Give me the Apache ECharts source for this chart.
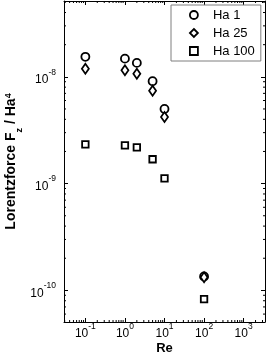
<!DOCTYPE html>
<html>
<head>
<meta charset="utf-8">
<script src="https://cdn.jsdelivr.net/npm/echarts@6/dist/echarts.min.js"></script>
<style>
html,body{margin:0;padding:0;background:#fff;}
#chart{width:266px;height:358px;}
</style>
</head>
<body>
<div id="chart"></div>
<script>
// ---- data ----
const reValues = [0.1, 1, 2, 5, 10, 100];
const ha1 = [1.54e-8, 1.48e-8, 1.35e-8, 9.1e-9, 5.0e-9, 1.35e-10];
const ha25 = [1.19e-8, 1.15e-8, 1.07e-8, 7.4e-9, 4.2e-9, 1.33e-10];
const ha100 = [2.33e-9, 2.28e-9, 2.18e-9, 1.69e-9, 1.12e-9, 8.3e-11];
const seriesNames = ['Ha 1', 'Ha 25', 'Ha 100'];
const xTickExps = [-1, 0, 1, 2, 3];
const yTickExps = [-10, -9, -8];
const xMinExp = -1.54, xMaxExp = 3.54;
const yMinExp = -10.296, yMaxExp = -7.29;
const minorMultipliers = [2, 3, 4, 5, 6, 7, 8, 9];

const xMin = Math.pow(10, xMinExp), xMax = Math.pow(10, xMaxExp);
const yMin = Math.pow(10, yMinExp), yMax = Math.pow(10, yMaxExp);

function minorValues(lo, hi) {
  const out = [];
  for (let e = Math.floor(Math.log10(lo)); e <= Math.ceil(Math.log10(hi)); e++) {
    minorMultipliers.forEach(m => {
      const v = m * Math.pow(10, e);
      if (v > lo && v < hi) out.push(v);
    });
  }
  return out;
}
const xMinor = minorValues(xMin, xMax);
const yMinor = minorValues(yMin, yMax);

const FONT = 'Liberation Sans';
function expLabel(exps) {
  return function (v) {
    const e = Math.log10(v);
    const r = Math.round(e);
    if (Math.abs(e - r) > 1e-6 || exps.indexOf(r) < 0) return '';
    return '{b|10}{s|' + r + '}';
  };
}
const richExp = {
  b: { fontSize: 12, fontFamily: FONT, color: '#000', lineHeight: 18, verticalAlign: 'bottom' },
  s: { fontSize: 8.5, fontFamily: FONT, color: '#000', lineHeight: 8, verticalAlign: 'top' }
};

function toPairs(ys) { return reValues.map((x, i) => [x, ys[i]]); }

const markerStyle = { color: '#fff', borderColor: '#000', borderWidth: 1.8, opacity: 1 };

const option = {
  animation: false,
  backgroundColor: '#fff',
  grid: { left: 64, right: 1, top: 1, bottom: 36, containLabel: false, outerBoundsMode: 'none' },
  legend: {
    data: seriesNames,
    orient: 'vertical',
    left: 171, top: 5,
    padding: [3, 6, 3, 18],
    itemWidth: 8, itemHeight: 8, itemGap: 4,
    backgroundColor: '#fff',
    borderColor: '#7f7f7f', borderWidth: 1,
    textStyle: { fontSize: 13, fontFamily: FONT, color: '#000', lineHeight: 14, padding: [0, 0, 0, 10] },
    itemStyle: { borderWidth: 1.8, opacity: 1 }
  },
  xAxis: [{
    type: 'log', logBase: 10, min: xMin, max: xMax, position: 'bottom',
    name: 'Re', nameLocation: 'middle', nameGap: 20, nameMoveOverlap: false,
    nameTextStyle: { fontSize: 13, fontWeight: 'bold', fontFamily: FONT, color: '#000' },
    axisLine: { show: true, lineStyle: { color: '#000', width: 1 } },
    axisTick: { show: true, inside: true, length: 4, lineStyle: { color: '#000' } },
    axisLabel: { formatter: expLabel(xTickExps), margin: 0, rich: richExp, showMinLabel: true, showMaxLabel: true },
    splitLine: { show: false }
  }, {
    type: 'log', logBase: 10, min: xMin, max: xMax, position: 'top',
    axisLine: { show: true, lineStyle: { color: '#000', width: 1 } },
    axisTick: { show: true, inside: true, length: 4, lineStyle: { color: '#000' } },
    axisLabel: { show: false },
    splitLine: { show: false }
  }],
  yAxis: [{
    type: 'log', logBase: 10, min: yMin, max: yMax, position: 'left',
    name: 'Lorentzforce F{sub|z} / Ha{sup|4}', nameLocation: 'middle', nameGap: 46, nameMoveOverlap: false,
    nameTextStyle: {
      fontSize: 14, fontWeight: 'bold', fontFamily: FONT, color: '#000',
      rich: {
        sub: { fontSize: 9, fontWeight: 'bold', fontFamily: FONT, color: '#000', verticalAlign: 'bottom', lineHeight: 10, padding: [0, 0, -6, 0] },
        sup: { fontSize: 9, fontWeight: 'bold', fontFamily: FONT, color: '#000', verticalAlign: 'top', lineHeight: 10 }
      }
    },
    axisLine: { show: true, lineStyle: { color: '#000', width: 1 } },
    axisTick: { show: true, inside: true, length: 4, lineStyle: { color: '#000' } },
    axisLabel: { formatter: expLabel(yTickExps), margin: 8, rich: richExp, showMinLabel: true, showMaxLabel: true },
    splitLine: { show: false }
  }, {
    type: 'log', logBase: 10, min: yMin, max: yMax, position: 'right',
    axisLine: { show: true, lineStyle: { color: '#000', width: 1 } },
    axisTick: { show: true, inside: true, length: 4, lineStyle: { color: '#000' } },
    axisLabel: { show: false },
    splitLine: { show: false }
  }],
  series: [
    {
      name: 'minorX', type: 'custom', xAxisIndex: 0, yAxisIndex: 0, silent: true, z: 1,
      data: xMinor.map(v => [v, yMin]),
      renderItem: function (params, api) {
        const v = api.value(0);
        const p0 = api.coord([v, yMin]);
        const p1 = api.coord([v, yMax]);
        const st = { stroke: '#000', lineWidth: 1 };
        return { type: 'group', children: [
          { type: 'line', shape: { x1: p0[0], y1: p0[1], x2: p0[0], y2: p0[1] - 2 }, style: st },
          { type: 'line', shape: { x1: p1[0], y1: p1[1], x2: p1[0], y2: p1[1] + 2 }, style: st }
        ] };
      }
    },
    {
      name: 'minorY', type: 'custom', xAxisIndex: 0, yAxisIndex: 0, silent: true, z: 1,
      data: yMinor.map(v => [xMin, v]),
      renderItem: function (params, api) {
        const v = api.value(1);
        const p0 = api.coord([xMin, v]);
        const p1 = api.coord([xMax, v]);
        const st = { stroke: '#000', lineWidth: 1 };
        return { type: 'group', children: [
          { type: 'line', shape: { x1: p0[0], y1: p0[1], x2: p0[0] + 2, y2: p0[1] }, style: st },
          { type: 'line', shape: { x1: p1[0], y1: p1[1], x2: p1[0] - 2, y2: p1[1] }, style: st }
        ] };
      }
    },
    { name: seriesNames[0], type: 'scatter', symbol: 'circle', symbolSize: 8, itemStyle: markerStyle, data: toPairs(ha1), z: 3 },
    { name: seriesNames[1], type: 'scatter', symbol: 'diamond', symbolSize: [7, 10], itemStyle: markerStyle, data: toPairs(ha25), z: 4 },
    { name: seriesNames[2], type: 'scatter', symbol: 'rect', symbolSize: 6.5, itemStyle: markerStyle, data: toPairs(ha100), z: 5 }
  ]
};

const chart = echarts.init(document.getElementById('chart'), null, { renderer: 'canvas' });
chart.setOption(option);
</script>
</body>
</html>
